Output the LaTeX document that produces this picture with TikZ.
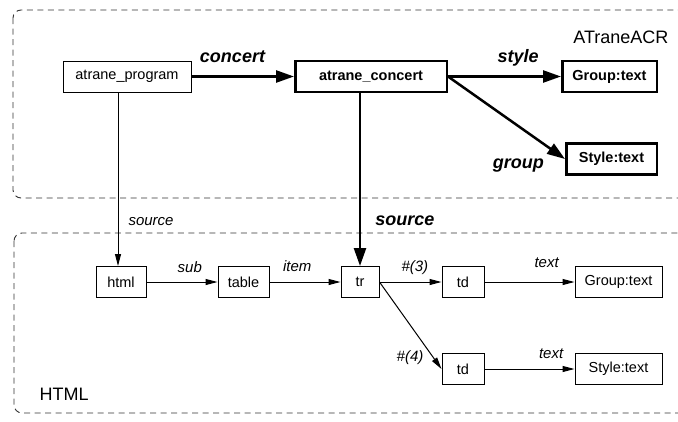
\documentclass[tikz,border=0pt]{standalone}
\usepackage{fontspec}
\setmainfont{Liberation Sans}
\usetikzlibrary{arrows.meta}

\begin{document}
\begin{tikzpicture}[x=1pt, y=-1pt, font=\fontsize{14.5}{17}\selectfont,
    box/.style={draw, line width=1pt, minimum height=31pt, inner sep=0pt},
    bbox/.style={box, line width=2.5pt, font=\fontsize{14.5}{17}\selectfont\bfseries},
    ln/.style={line width=1pt, -{Triangle[length=12pt, width=6pt]}},
    bln/.style={line width=2.5pt, -{Triangle[length=18pt, width=12pt]}},
    lbl/.style={font=\fontsize{15}{18}\selectfont\itshape, inner sep=0pt, anchor=base},
    blbl/.style={font=\fontsize{18}{21}\selectfont\bfseries\itshape, inner sep=0pt, anchor=base},
    area/.style={draw=black!80, line width=0.9pt, dash pattern=on 6pt off 4.5pt, rounded corners=8pt}]
  \useasboundingbox (0,0) rectangle (678,421);
  \clip (0,0) rectangle (678,421);

  % the two layers, open to the right
  \draw[area] (13,10) rectangle (700,198);
  \draw[area] (14,233) rectangle (700,413);
  \node[anchor=base east, font=\fontsize{18}{21}\selectfont] (acr) at (672,43) {ATraneACR};
  \node[anchor=base west, font=\fontsize{18}{21}\selectfont] (html) at (36,400) {HTML};

  % upper layer
  \node[box, minimum width=128pt] (AP) at (127,76.5) {atrane\_program};
  \node[bbox, minimum width=151.5pt] (AC) at (371,76.5) {atrane\_concert};
  \node[bbox, minimum width=94.5pt] (GT) at (609.5,76.5) {Group:text};
  \node[bbox, minimum width=90.5pt] (ST) at (611.5,159) {Style:text};

  % lower layer
  \node[box, minimum width=50pt] (H) at (121,282) {html};
  \node[box, minimum width=51pt] (T) at (243.5,282) {table};
  \node[box, minimum width=38pt] (TR) at (360,282) {tr};
  \node[box, minimum width=42pt] (TD1) at (463,282) {td};
  \node[box, minimum width=87pt] (G) at (618.5,282) {Group:text};
  \node[box, minimum width=42pt] (TD2) at (463,369) {td};
  \node[box, minimum width=87pt] (S) at (618.5,369) {Style:text};

  \draw[bln] (AP) -- (AC) node[pos=0.4, blbl, yshift=14.5pt] {concert};
  \draw[bln] (AC) -- (GT) node[pos=0.62, blbl, yshift=14.5pt] {style};
  \draw[bln] (AC.east) -- (ST.west) node[at end, blbl, anchor=base east, xshift=-20pt, yshift=-9pt] {group};
  \draw[bln] (AC.south -| TR.north) -- (TR.north) node[pos=0.764, blbl, anchor=base west, xshift=14pt] {source};
  \draw[ln] ([xshift=-3pt]H.north |- AP.south) -- ([xshift=-3pt]H.north) node[pos=0.764, lbl, anchor=base west, xshift=10pt] {source};

  \draw[ln] (H) -- (T) node[pos=0.61, lbl, yshift=10pt] {sub};
  \draw[ln] (T) -- (TR) node[pos=0.39, lbl, yshift=11pt] {item};
  \draw[ln] (TR) -- (TD1) node[pos=0.57, lbl, yshift=11pt] {\#(3)};
  \draw[ln] (TD1) -- (G) node[pos=0.69, lbl, yshift=15pt] {text};
  \draw[ln] (TR.east) -- (TD2.west) node[pos=0.91, lbl, anchor=base east, xshift=-12pt] {\#(4)};
  \draw[ln] (TD2) -- (S) node[pos=0.74, lbl, yshift=11pt] {text};
\end{tikzpicture}
\end{document}
